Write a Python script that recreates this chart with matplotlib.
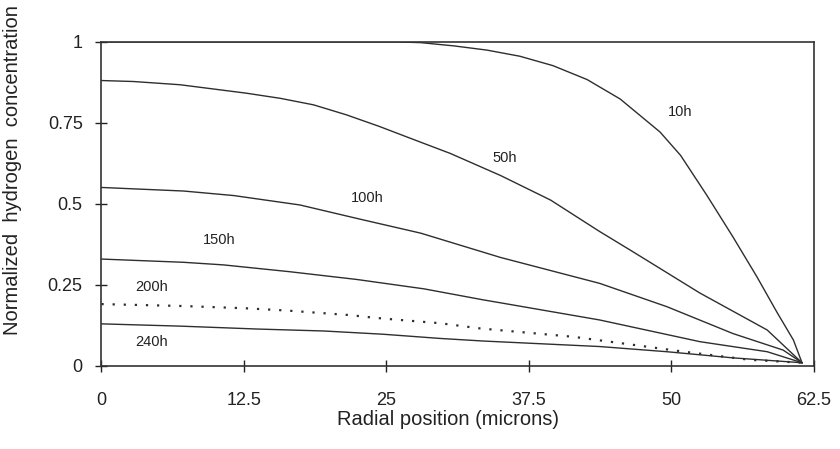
import numpy as np
import matplotlib.pyplot as plt

plt.rcParams['font.family'] = ['Liberation Sans', 'DejaVu Sans']

# radial position (microns) and normalized concentration
x_10h = [0, 20, 26, 28.0, 30.9, 33.8, 36.7, 39.6, 42.6, 45.5, 49.0, 50.8, 53.1, 55.4, 57.5, 59.3, 60.7, 61.45]
y_10h = [1.0, 1.0, 1.0, 0.998, 0.988, 0.975, 0.956, 0.927, 0.884, 0.824, 0.722, 0.650, 0.527, 0.398, 0.275, 0.163, 0.08, 0.01]

x_50h = [0, 2.8, 6.9, 9.8, 12.7, 15.7, 18.6, 21.5, 24.4, 27.9, 30.6, 35.0, 39.4, 43.7, 46.6, 52.5, 58.4, 61.45]
y_50h = [0.881, 0.878, 0.868, 0.855, 0.842, 0.826, 0.806, 0.775, 0.739, 0.692, 0.656, 0.588, 0.512, 0.415, 0.353, 0.225, 0.111, 0.01]

x_100h = [0, 7.2, 11.6, 17.4, 22.7, 28.0, 35.0, 43.7, 49.6, 55.4, 59.8, 61.45]
y_100h = [0.551, 0.540, 0.526, 0.497, 0.453, 0.410, 0.335, 0.255, 0.183, 0.100, 0.049, 0.01]

x_150h = [0, 7.2, 10.7, 16.5, 22.4, 28.3, 33.5, 35.0, 43.7, 52.5, 58.4, 61.45]
y_150h = [0.330, 0.320, 0.312, 0.291, 0.267, 0.238, 0.204, 0.195, 0.142, 0.075, 0.044, 0.01]

x_200h = [0, 7.2, 12.7, 16.3, 21.8, 23.9, 26.2, 29.7, 33.2, 41.4, 46.7, 51.1, 56.9, 61.45]
y_200h = [0.191, 0.185, 0.178, 0.171, 0.157, 0.149, 0.142, 0.132, 0.116, 0.090, 0.065, 0.044, 0.019, 0.01]

x_240h = [0, 6.9, 13.7, 19.5, 24.7, 29.7, 33.5, 43.7, 49.6, 55.4, 61.45]
y_240h = [0.130, 0.123, 0.114, 0.108, 0.098, 0.085, 0.077, 0.060, 0.044, 0.025, 0.01]

curve_labels = ['10h', '50h', '100h', '150h', '200h', '240h']
label_x = [50.8, 35.4, 23.3, 10.3, 4.4, 4.4]
label_y = [0.785, 0.642, 0.517, 0.389, 0.245, 0.075]

fig = plt.figure(figsize=(8.4, 4.49), dpi=100)
ax = fig.add_axes([0.1208, 0.1849, 0.8482, 0.7216])

lc = '#2e2e2e'
for xs, ys in [(x_10h, y_10h), (x_50h, y_50h), (x_100h, y_100h), (x_150h, y_150h), (x_240h, y_240h)]:
    ax.plot(xs, ys, color=lc, lw=1.0)
ax.plot(x_200h, y_200h, color=lc, lw=1.6, linestyle=(0, (1, 4)))

for t, tx, ty in zip(curve_labels, label_x, label_y):
    ax.text(tx, ty, t, fontsize=10.5, ha='center', va='center', color='#222222')

ax.set_xlim(0, 62.5)
ax.set_ylim(0, 1)
ax.set_xticks([0, 12.5, 25, 37.5, 50, 62.5])
ax.set_xticklabels(['0', '12.5', '25', '37.5', '50', '62.5'])
ax.set_yticks([0, 0.25, 0.5, 0.75, 1])
ax.set_yticklabels(['0', '0.25', '0.5', '0.75', '1'])
ax.xaxis.set_ticks_position('bottom')
ax.yaxis.set_ticks_position('left')
ax.tick_params(direction='inout', length=9, width=1.0, labelsize=13, colors='#222222')
ax.tick_params(axis='x', pad=14)
ax.tick_params(axis='y', pad=9)
for s in ax.spines.values():
    s.set_linewidth(1.2)
    s.set_color('#333333')

ax.set_xlabel('Radial position (microns)', fontsize=14.5, color='#222222')
ax.set_ylabel('Normalized  hydrogen  concentration', fontsize=14.5, color='#222222')
ax.xaxis.set_label_coords(0.486, -0.137)
ax.yaxis.set_label_coords(-0.112, 0.605)

fig.savefig('out.png', dpi=100)
